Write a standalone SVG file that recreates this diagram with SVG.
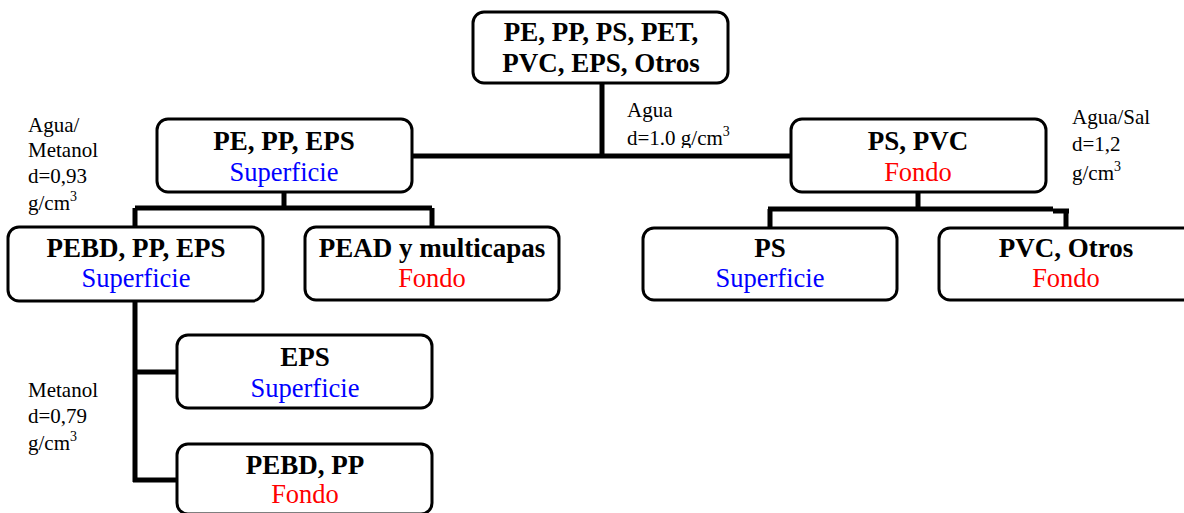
<svg xmlns="http://www.w3.org/2000/svg" width="1184" height="513" viewBox="0 0 1184 513">
<style>
.box{fill:#fff;stroke:#000;stroke-width:3}
.conn{fill:none;stroke:#000;stroke-width:5;stroke-linejoin:miter;stroke-linecap:butt}
.t{font-family:"Liberation Serif","Times New Roman",serif;font-size:26.5px;text-anchor:middle}
.b{font-weight:bold;fill:#000;font-size:27px}
.sup{fill:#0000ff}
.fon{fill:#ff0000}
.lab{font-family:"Liberation Serif","Times New Roman",serif;font-size:21px;fill:#000}
.s3{font-size:14px}
</style>
<defs>
<clipPath id="clipAgua"><rect x="600" y="90" width="200" height="58"/></clipPath>
</defs>
<rect width="1184" height="513" fill="#fff"/>
<g id="connectors">
<path class="conn" d="M602 83 V156 M413 156 H792"/>
<path class="conn" d="M284 192 V208 M135 208 H432 M135 208 V227 M432 208 V227"/>
<path class="conn" d="M918 192 V209 M768 209 H1053 M1053 211 H1069 M770 209 V229 M1066 211 V229"/>
<path class="conn" d="M135 301 V482 M135 372 H177 M133 480 H177"/>
</g>
<g id="n-root">
<rect class="box" x="473" y="12" width="255" height="71" rx="11"/>
<text class="t b" x="601" y="41">PE, PP, PS, PET,</text>
<text class="t b" x="601" y="72">PVC, EPS, Otros</text>
</g>
<g id="n-pe">
<rect class="box" x="157" y="119" width="255" height="73" rx="11"/>
<text class="t b" x="284" y="150">PE, PP, EPS</text>
<text class="t sup" x="284" y="181">Superficie</text>
</g>
<g id="n-pspvc">
<rect class="box" x="791" y="119" width="255" height="73" rx="11"/>
<text class="t b" x="918" y="150">PS, PVC</text>
<text class="t fon" x="918" y="181">Fondo</text>
</g>
<g id="n-pebd">
<rect class="box" x="8" y="227" width="255" height="74" rx="11"/>
<text class="t b" x="136" y="257">PEBD, PP, EPS</text>
<text class="t sup" x="136" y="287">Superficie</text>
</g>
<g id="n-pead">
<rect class="box" x="305" y="227" width="254" height="73" rx="11"/>
<text class="t b" x="432" y="257">PEAD y multicapas</text>
<text class="t fon" x="432" y="287">Fondo</text>
</g>
<g id="n-ps">
<rect class="box" x="643" y="228" width="254" height="72" rx="11"/>
<text class="t b" x="770" y="257">PS</text>
<text class="t sup" x="770" y="287">Superficie</text>
</g>
<g id="n-pvc">
<rect class="box" x="939" y="228" width="256" height="72" rx="11"/>
<text class="t b" x="1066" y="257">PVC, Otros</text>
<text class="t fon" x="1066" y="287">Fondo</text>
</g>
<g id="n-eps">
<rect class="box" x="177" y="335" width="255" height="73" rx="11"/>
<text class="t b" x="305" y="366">EPS</text>
<text class="t sup" x="305" y="397">Superficie</text>
</g>
<g id="n-pebdpp">
<rect class="box" x="177" y="444" width="255" height="70" rx="11"/>
<text class="t b" x="305" y="474">PEBD, PP</text>
<text class="t fon" x="305" y="503">Fondo</text>
</g>
<g id="labels">
<text class="lab" x="627" y="117">Agua</text>
<text class="lab" x="627" y="145" clip-path="url(#clipAgua)">d=1.0 g/cm<tspan class="s3" dy="-9">3</tspan></text>
<text class="lab" x="28" y="132">Agua/</text>
<text class="lab" x="28" y="157">Metanol</text>
<text class="lab" x="28" y="183">d=0,93</text>
<text class="lab" x="28" y="210">g/cm<tspan class="s3" dy="-9">3</tspan></text>
<text class="lab" x="1072" y="124">Agua/Sal</text>
<text class="lab" x="1072" y="151">d=1,2</text>
<text class="lab" x="1072" y="180">g/cm<tspan class="s3" dy="-9">3</tspan></text>
<text class="lab" x="28" y="397">Metanol</text>
<text class="lab" x="28" y="423">d=0,79</text>
<text class="lab" x="28" y="450">g/cm<tspan class="s3" dy="-9">3</tspan></text>
</g>
</svg>
